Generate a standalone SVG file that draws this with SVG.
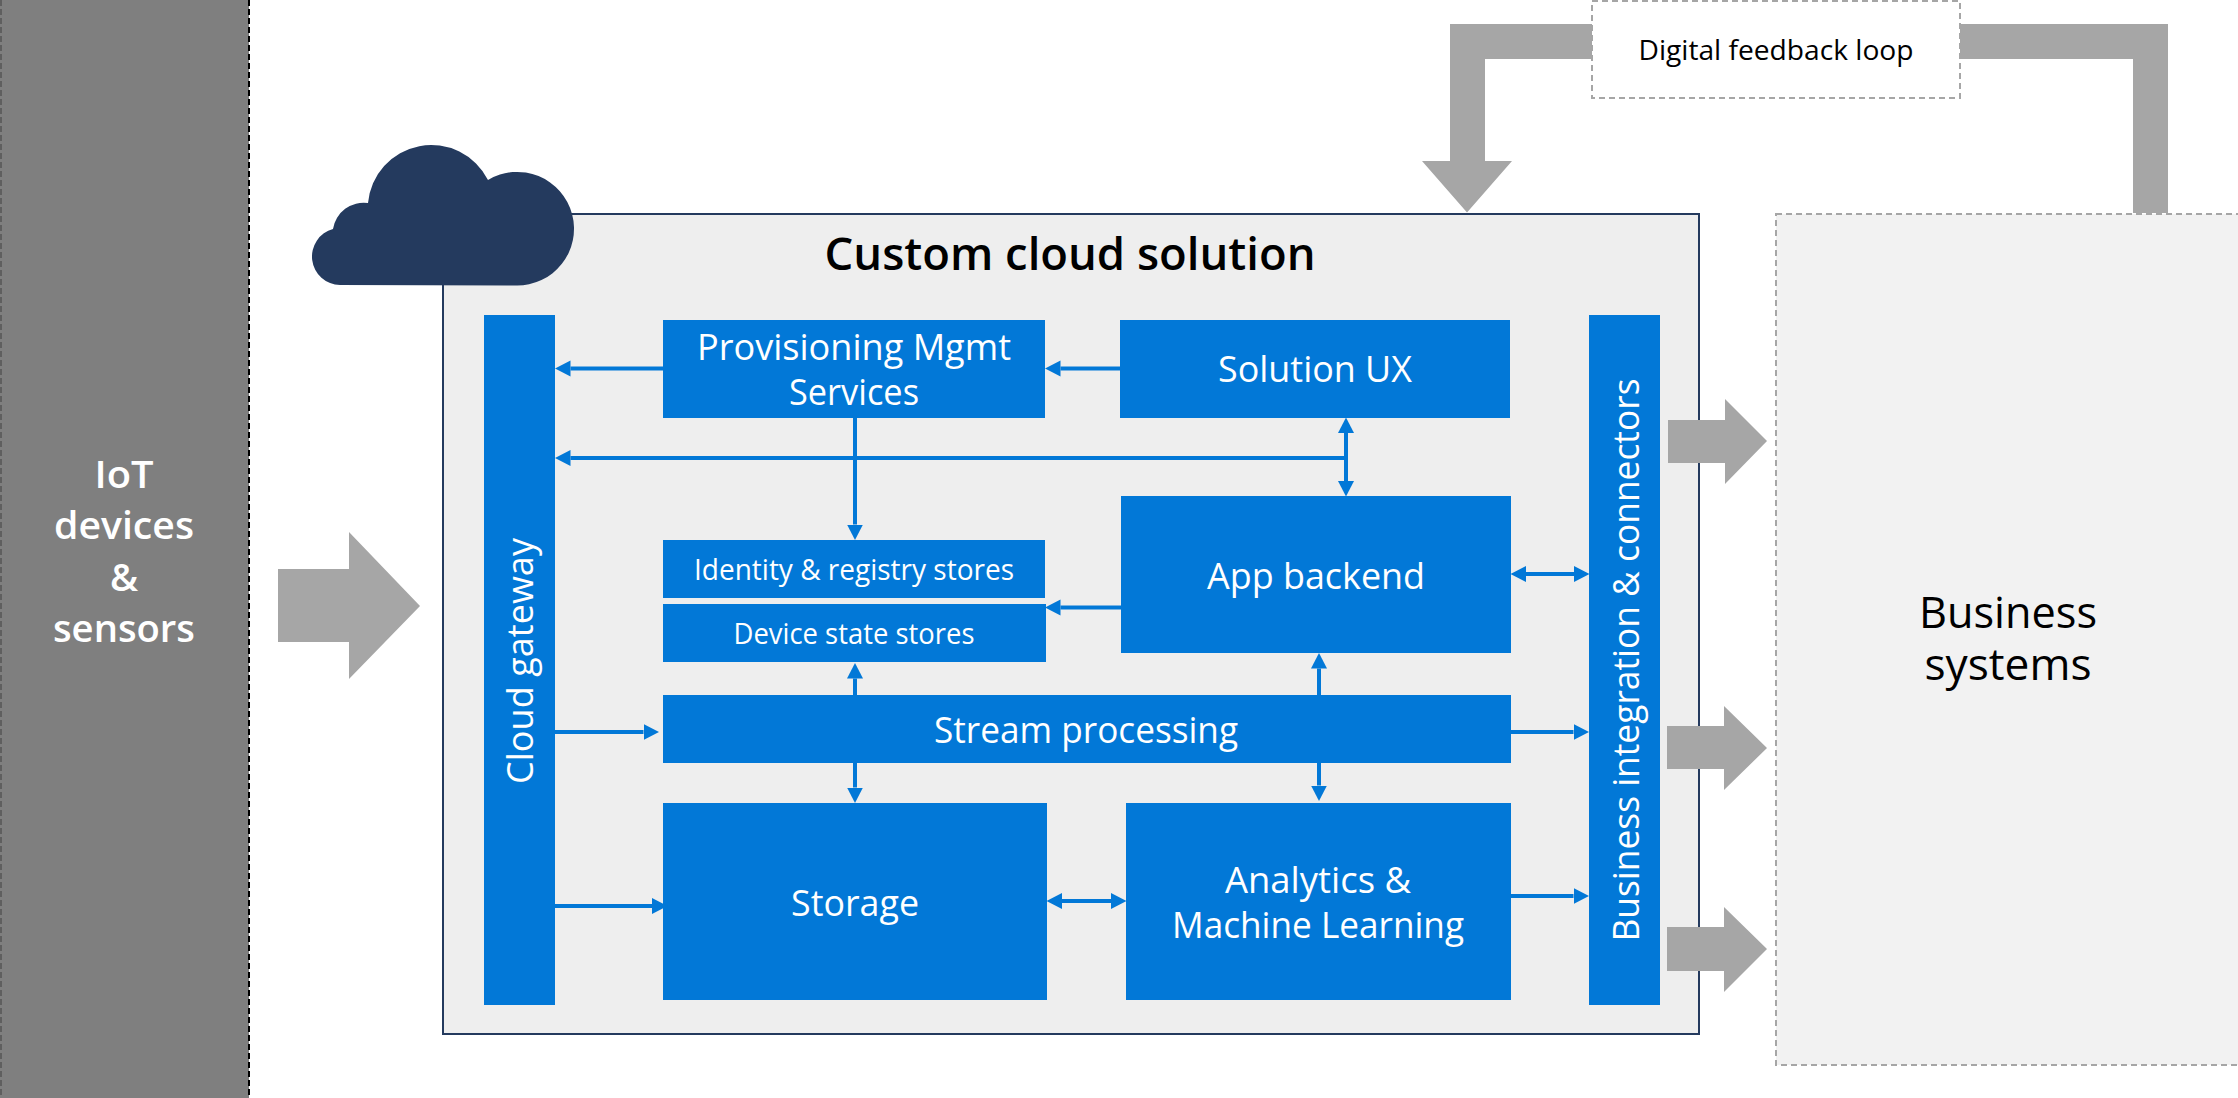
<svg xmlns="http://www.w3.org/2000/svg" width="2238" height="1098" viewBox="0 0 2238 1098">
<style>
text{font-family:"Open Sans","Noto Sans","Liberation Sans",sans-serif;text-anchor:middle}
.b{fill:#0278d7}
.w{fill:#fff;font-weight:400}
.big{font-size:36px}
.mid{font-size:29px}
.v{font-size:36px}
.g{fill:#a6a6a6}
.c{fill:none;stroke:#0278d7;stroke-width:4;marker-end:url(#h)}
.d{marker-start:url(#h)}
.dash{stroke:#a6a6a6;stroke-width:2;stroke-dasharray:6 4}
</style>
<defs><marker id="h" markerUnits="userSpaceOnUse" markerWidth="16" markerHeight="18" refX="0" refY="9" orient="auto-start-reverse"><path d="M0 1L15.500 9L0 17Z" fill="#0278d7"/></marker></defs>
<rect width="2238" height="1098" fill="#fff"/>
<g id="iot"><rect x="0" y="0" width="249" height="1098" fill="#7f7f7f"/><path d="M249 0V1098" stroke="#000" stroke-width="2" stroke-dasharray="6 3"/><path d="M1 0V1098" stroke="#555" stroke-width="1.500" stroke-dasharray="6 3"/>
<text class="w" font-size="38" style="font-weight:600" x="124" y="488" textLength="59" lengthAdjust="spacingAndGlyphs">IoT</text><text class="w" font-size="38" style="font-weight:600" x="124" y="539" textLength="140" lengthAdjust="spacingAndGlyphs">devices</text><text class="w" font-size="38" style="font-weight:600" x="124" y="591">&amp;</text><text class="w" font-size="38" style="font-weight:600" x="124" y="642" textLength="142" lengthAdjust="spacingAndGlyphs">sensors</text></g>
<g id="feedback"><rect x="1592" y="1" width="368" height="97" fill="#fff" class="dash"/><text x="1776" y="60" font-size="27" fill="#000" textLength="275" lengthAdjust="spacingAndGlyphs">Digital feedback loop</text></g>
<g id="business"><rect x="1776" y="214" width="470" height="851" fill="#f2f2f2" class="dash"/><text x="2008" y="628" font-size="44" fill="#000" textLength="178" lengthAdjust="spacingAndGlyphs">Business</text><text x="2008" y="680" font-size="44" fill="#000" textLength="167" lengthAdjust="spacingAndGlyphs">systems</text></g>
<g id="panel"><rect x="443" y="214" width="1256" height="820" fill="#eeeeee" stroke="#243a5e" stroke-width="2"/><text x="1070" y="270" font-size="46" style="font-weight:600" fill="#000" textLength="491" lengthAdjust="spacingAndGlyphs">Custom cloud solution</text></g>
<g id="cloud"><path d="M340 285A28.500 28.500 0 0 1 333 229A31 31 0 0 1 368 203A63.500 63.500 0 0 1 488 180A56.800 56.800 0 1 1 516 285.500Z" fill="#243a5e"/></g>
<g id="gateway"><rect class="b" x="484" y="315" width="71" height="690"/><text class="w v" transform="translate(533 661) rotate(-90)" textLength="246" lengthAdjust="spacingAndGlyphs">Cloud gateway</text></g>
<g id="provisioning"><rect class="b" x="663" y="320" width="382" height="98"/><text class="w big" x="854" y="360" textLength="314" lengthAdjust="spacingAndGlyphs">Provisioning Mgmt</text><text class="w big" x="854" y="405" textLength="130" lengthAdjust="spacingAndGlyphs">Services</text></g>
<g id="solution-ux"><rect class="b" x="1120" y="320" width="390" height="98"/><text class="w big" x="1315" y="382" textLength="194" lengthAdjust="spacingAndGlyphs">Solution UX</text></g>
<g id="identity"><rect class="b" x="663" y="540" width="382" height="58"/><text class="w mid" x="854" y="580" textLength="320" lengthAdjust="spacingAndGlyphs">Identity &amp; registry stores</text></g>
<g id="device"><rect class="b" x="663" y="604" width="383" height="58"/><text class="w mid" x="854" y="644" textLength="241" lengthAdjust="spacingAndGlyphs">Device state stores</text></g>
<g id="app-backend"><rect class="b" x="1121" y="496" width="390" height="157"/><text class="w big" x="1316" y="589" textLength="218" lengthAdjust="spacingAndGlyphs">App backend</text></g>
<g id="stream"><rect class="b" x="663" y="695" width="848" height="68"/><text class="w big" x="1086" y="743" textLength="304" lengthAdjust="spacingAndGlyphs">Stream processing</text></g>
<g id="storage"><rect class="b" x="663" y="803" width="384" height="197"/><text class="w big" x="855" y="916" textLength="128" lengthAdjust="spacingAndGlyphs">Storage</text></g>
<g id="analytics"><rect class="b" x="1126" y="803" width="385" height="197"/><text class="w big" x="1318" y="893" textLength="186" lengthAdjust="spacingAndGlyphs">Analytics &amp;</text><text class="w big" x="1318" y="938" textLength="292" lengthAdjust="spacingAndGlyphs">Machine Learning</text></g>
<g id="integration"><rect class="b" x="1589" y="315" width="71" height="690"/><text class="w v" transform="translate(1639 660) rotate(-90)" textLength="563" lengthAdjust="spacingAndGlyphs">Business integration &amp; connectors</text></g>
<g id="connectors">
<path class="c" d="M663 368.500H570.500"/>
<path class="c" d="M1120 368.500H1060.500"/>
<path class="c" d="M1346 458H570.500"/>
<path class="c d" d="M1346 433V481"/>
<path class="c" d="M855 418V524.500"/>
<path class="c" d="M1121 607.500H1060.500"/>
<path class="c d" d="M1526 574H1574"/>
<path class="c" d="M855 695V678.500"/>
<path class="c" d="M1319 695V668.500"/>
<path class="c" d="M555 732H643.500"/>
<path class="c" d="M555 906H652"/>
<path class="c" d="M1511 732H1573.500"/>
<path class="c" d="M1511 896H1573.500"/>
<path class="c d" d="M1062 901H1111"/>
<path class="c" d="M855 763V787.500"/>
<path class="c" d="M1319 763V785.500"/>
<path class="g" d="M278 569H349V532L420 606L349 679V642H278Z"/>
<path class="g" d="M1668 420H1725V399L1767 441L1725 484V463H1668Z"/>
<path class="g" d="M1667 726H1724V706L1767 748L1724 790V769H1667Z"/>
<path class="g" d="M1667 927H1724V907L1767 949L1724 992V971H1667Z"/>
<path class="g" d="M1592 24H1450V161H1422L1467 212.500L1512 161H1485V59H1592Z"/>
<path class="g" d="M1960 24H2168V213H2133V59H1960Z"/>
</g>
</svg>
